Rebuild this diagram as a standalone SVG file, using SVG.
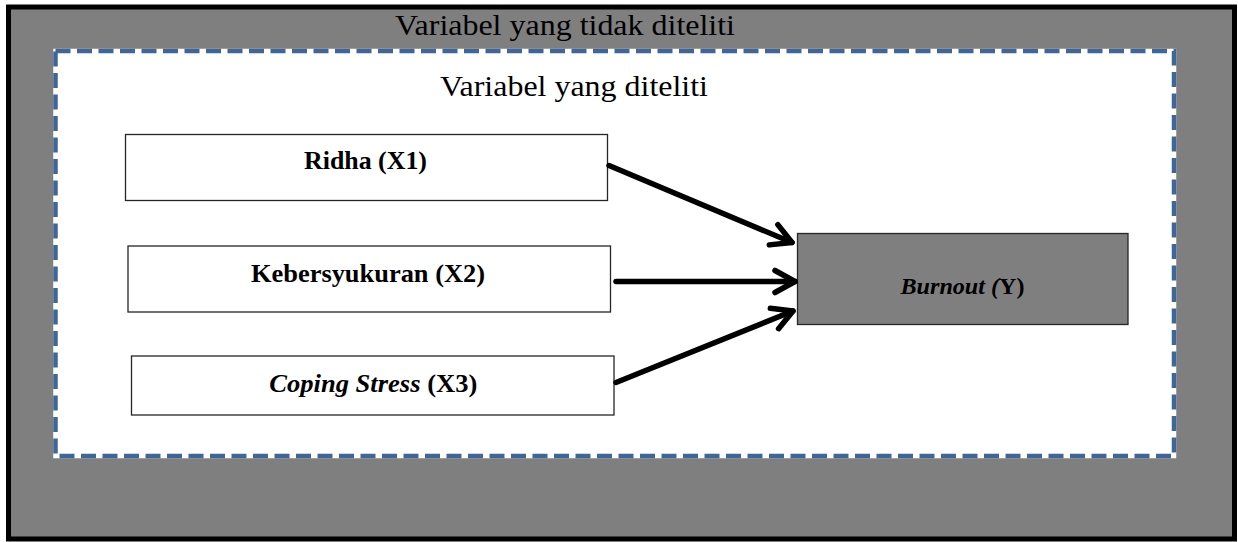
<svg xmlns="http://www.w3.org/2000/svg" width="1238" height="542" viewBox="0 0 1238 542">
<defs>
<style>
.t{font-family:"Liberation Serif","Times New Roman",serif;fill:#000}
.big{font-size:29px}
.lbl{font-size:25px;font-weight:bold}
.box{fill:#fff;stroke:#262626;stroke-width:1.3}
.conn{stroke:#000;stroke-width:5.5;fill:none;stroke-linecap:round}
</style>
<marker id="ah" markerUnits="userSpaceOnUse" markerWidth="30" markerHeight="30" viewBox="-26 -15 30 30" refX="0" refY="0" orient="auto">
<path d="M -20 -11 L 0 0 L -20 11" fill="none" stroke="#000" stroke-width="5.5" stroke-linecap="round" stroke-linejoin="round"/>
</marker>
</defs>
<rect width="1238" height="542" fill="#fff"/>
<g id="outer">
<rect x="8.5" y="7" width="1226" height="532" fill="#7f7f7f" stroke="#000" stroke-width="5"/>
<text class="t big" x="565" y="34.5" text-anchor="middle" textLength="340" lengthAdjust="spacingAndGlyphs">Variabel yang tidak diteliti</text>
</g>
<g id="inner">
<rect x="55.5" y="51" width="1118.5" height="405" fill="#fff" stroke="#fff" stroke-width="4.5"/>
<rect x="55.5" y="51" width="1118.5" height="405" fill="none" stroke="#3f6698" stroke-width="4.5" stroke-dasharray="15 6.5"/>
<text class="t big" x="574" y="96" text-anchor="middle" textLength="268" lengthAdjust="spacingAndGlyphs">Variabel yang diteliti</text>
</g>
<g id="ridha">
<rect class="box" x="125.5" y="134.5" width="482" height="66"/>
<text class="t lbl" x="365.5" y="168.5" text-anchor="middle" textLength="123" lengthAdjust="spacingAndGlyphs">Ridha (X1)</text>
</g>
<g id="kebersyukuran">
<rect class="box" x="128" y="246" width="482.5" height="66"/>
<text class="t lbl" x="368" y="281.5" text-anchor="middle" textLength="234" lengthAdjust="spacingAndGlyphs">Kebersyukuran (X2)</text>
</g>
<g id="coping">
<rect class="box" x="131.5" y="356" width="482.5" height="59"/>
<text class="t lbl" x="373.3" y="391.7" text-anchor="middle" textLength="208" lengthAdjust="spacingAndGlyphs"><tspan font-style="italic">Coping Stress</tspan> (X3)</text>
</g>
<g id="burnout">
<rect x="797.5" y="233.5" width="330.5" height="91" fill="#7f7f7f" stroke="#262626" stroke-width="1.3"/>
<text class="t" x="962.5" y="294.3" text-anchor="middle" font-size="24" font-weight="bold" textLength="124" lengthAdjust="spacingAndGlyphs"><tspan font-style="italic">Burnout (</tspan>Y)</text>
</g>
<g id="connectors">
<line class="conn" x1="609" y1="165.5" x2="792" y2="242.5" marker-end="url(#ah)"/>
<line class="conn" x1="616" y1="281.5" x2="795" y2="281.5" marker-end="url(#ah)"/>
<line class="conn" x1="616" y1="382.5" x2="793" y2="311" marker-end="url(#ah)"/>
</g>
</svg>
